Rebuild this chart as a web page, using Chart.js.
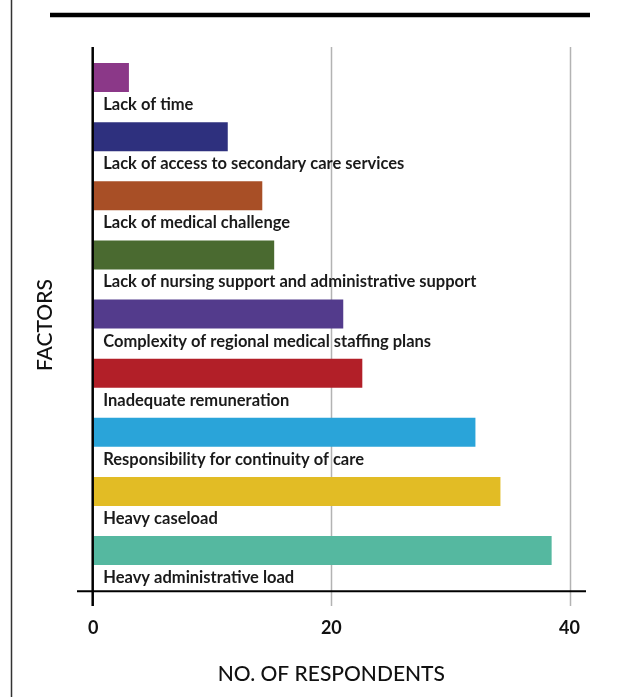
<!DOCTYPE html>
<html>
<head>
<meta charset="utf-8">
<script src="https://cdn.jsdelivr.net/npm/chart.js@4"></script>
<style>
  html, body { margin: 0; padding: 0; background: #fff; }
  #wrap { position: relative; width: 632px; height: 697px; }
</style>
</head>
<body>
<div id="wrap"><canvas id="myChart"></canvas></div>
<script>
let factors = [
  'Lack of time',
  'Lack of access to secondary care services',
  'Lack of medical challenge',
  'Lack of nursing support and administrative support',
  'Complexity of regional medical staffing plans',
  'Inadequate remuneration',
  'Responsibility for continuity of care',
  'Heavy caseload',
  'Heavy administrative load'
];
let respondents = [3, 11.3, 14.2, 15.2, 21, 22.6, 32.1, 34.2, 38.5];
let barColors = ['#8b3888', '#2e307e', '#a84f26', '#4a6a30', '#533b8c',
                 '#b21f28', '#2aa4d9', '#e2bc25', '#55b8a0'];
let xTicks = [0, 20, 40];

let fontFamily = 'Lato, "Open Sans", sans-serif';

// labels under each bar, plus the extended grid and axis lines
let decorations = {
  id: 'decorations',
  beforeDatasetsDraw(chart) {
    let c = chart.ctx;
    let x = chart.scales.x;
    c.save();
    c.strokeStyle = '#b3b3b3';
    c.lineWidth = 1.5;
    xTicks.forEach(v => {
      if (v === 0) return;
      let px = Math.round(x.getPixelForValue(v)) + 0.5;
      c.beginPath();
      c.moveTo(px, 47);
      c.lineTo(px, 606);
      c.stroke();
    });
    c.restore();
  },
  afterDatasetsDraw(chart) {
    let c = chart.ctx;
    let x = chart.scales.x;
    let area = chart.chartArea;
    let zero = x.getPixelForValue(0);
    let meta = chart.getDatasetMeta(0);

    c.save();
    c.fillStyle = '#1a1a1a';
    c.font = 'bold 16.5px ' + fontFamily;
    c.textBaseline = 'alphabetic';
    meta.data.forEach((bar, i) => {
      let bottom = bar.y + bar.height / 2;
      c.fillText(factors[i], zero + 10, bottom + 18);
    });

    // value axis baseline
    c.strokeStyle = '#000';
    c.lineWidth = 2;
    c.beginPath();
    c.moveTo(77, area.bottom);
    c.lineTo(586, area.bottom);
    c.stroke();

    // zero line
    c.lineWidth = 2.5;
    c.beginPath();
    c.moveTo(zero - 0.5, 47);
    c.lineTo(zero - 0.5, 606);
    c.stroke();

    // page frame: left rule and heavy top rule
    c.strokeStyle = '#333';
    c.lineWidth = 1.5;
    c.beginPath();
    c.moveTo(11.5, 0);
    c.lineTo(11.5, 697);
    c.stroke();

    c.strokeStyle = '#000';
    c.lineWidth = 4.5;
    c.beginPath();
    c.moveTo(50, 15);
    c.lineTo(590, 15);
    c.stroke();
    c.restore();
  }
};

let ctx = document.getElementById('myChart').getContext('2d');

let myChart = new Chart(ctx, {
  type: 'bar',
  data: {
    labels: factors,
    datasets: [{
      data: respondents,
      backgroundColor: barColors
    }, {
      // empty slot so each bar sits in the upper part of its row
      data: factors.map(() => null),
      backgroundColor: 'rgba(0,0,0,0)'
    }]
  },
  options: {
    indexAxis: 'y',
    responsive: true,
    maintainAspectRatio: false,
    animation: false,
    devicePixelRatio: 1,
    categoryPercentage: 0.748,
    barPercentage: 1.312,
    layout: {
      padding: { top: 59, left: 0, right: 62.5, bottom: 0 }
    },
    plugins: {
      legend: { display: false },
      tooltip: { enabled: false }
    },
    scales: {
      x: {
        min: 0,
        max: 40,
        afterBuildTicks: (scale) => {
          scale.ticks = xTicks.map(v => ({ value: v }));
        },
        grid: { display: false, drawTicks: false },
        border: { display: false },
        ticks: {
          color: '#111',
          padding: 26,
          font: { family: fontFamily, size: 18, weight: 'bold' }
        },
        title: {
          display: true,
          text: 'NO. OF RESPONDENTS',
          color: '#111',
          padding: { top: -3, bottom: 10 },
          font: { family: fontFamily, size: 21, weight: 500 }
        }
      },
      y: {
        grid: { display: false, drawTicks: false },
        border: { display: false },
        ticks: { display: false },
        title: {
          display: true,
          text: 'FACTORS',
          color: '#111',
          padding: { top: 33, bottom: 35 },
          font: { family: fontFamily, size: 21, weight: 500 }
        }
      }
    }
  },
  plugins: [decorations]
});
</script>
</body>
</html>
